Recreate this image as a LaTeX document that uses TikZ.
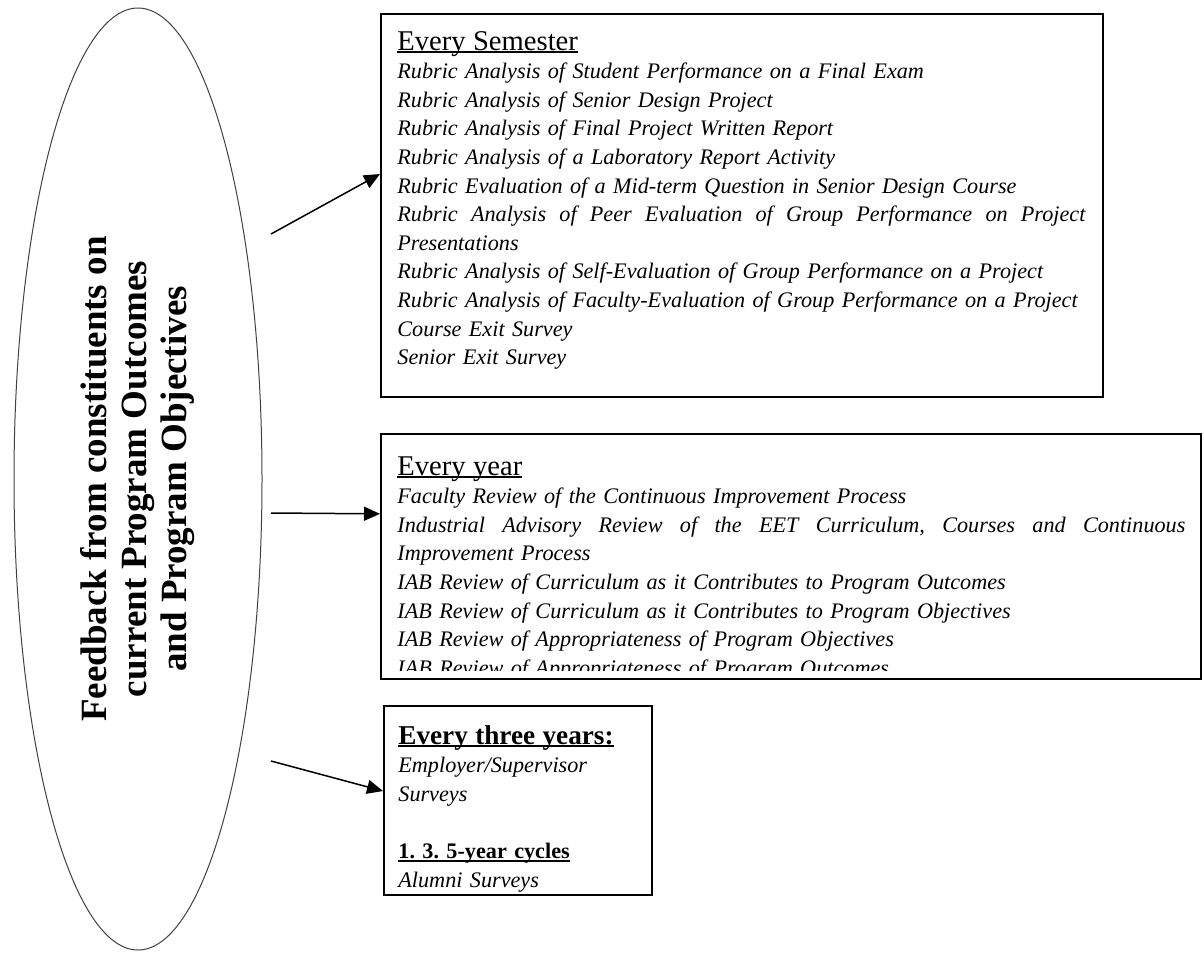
\documentclass[tikz,border=0pt]{standalone}
\usepackage{fontspec}
\setmainfont{Liberation Serif}
\usetikzlibrary{shapes.geometric,arrows.meta,calc}
\frenchspacing

\tikzset{
  listbox/.style={draw, line width=1.1pt, inner sep=0pt, anchor=north west},
  listtext/.style={anchor=base west, inner sep=0pt, align=left,
    font=\fontsize{11.1}{14.3}\selectfont\itshape},
  feedarrow/.style={-{Triangle[length=8pt,width=7pt]}, line width=0.75pt},
}
% underline close to the baseline
\newcommand{\headline}[1]{\leavevmode\setbox0\hbox{#1}\rlap{\rule[-1.6pt]{\wd0}{0.9pt}}\box0}
\newcommand{\plainhead}[1]{{\fontsize{14.3}{14.3}\selectfont\upshape\headline{#1}}}
\newcommand{\boldhead}[1]{{\fontsize{13.6}{14.3}\selectfont\upshape\bfseries\headline{#1}}}

\begin{document}
\begin{tikzpicture}[x=0.5pt,y=-0.5pt]
    \useasboundingbox (0,0) rectangle (1204,954);

    \node [ellipse, draw=black!75, line width=0.5pt, rotate=90, inner sep=0pt,
           minimum width=471pt, minimum height=124pt, align=center,
           font=\fontsize{18.5}{20}\selectfont\bfseries] (feedback) at (138,479)
        {Feedback from constituents on\\ current Program Outcomes\\ and Program Objectives};

    \node [listbox, minimum width=361pt, minimum height=191.5pt] (semBox) at (380,13) {};
    \node [listbox, minimum width=410pt, minimum height=122.5pt] (yearBox) at (380,433) {};
    \node [listbox, minimum width=134pt, minimum height=94.5pt] (threeBox) at (383,705) {};

    \node [listtext, text width=350pt] (semText) at (397,50) {%
        \plainhead{Every Semester}\\
        Rubric Analysis of Student Performance on a Final Exam\\
        Rubric Analysis of Senior Design Project\\
        Rubric Analysis of Final Project Written Report\\
        Rubric Analysis of a Laboratory Report Activity\\
        Rubric Evaluation of a Mid-term Question in Senior Design Course\\
        \makebox[344pt][l]{Rubric\hfill Analysis\hfill of\hfill Peer\hfill Evaluation\hfill
          of\hfill Group\hfill Performance\hfill on\hfill Project}\\
        Presentations\\
        Rubric Analysis of Self-Evaluation of Group Performance on a Project\\
        Rubric Analysis of Faculty-Evaluation of Group Performance on a Project\\
        Course Exit Survey\\
        Senior Exit Survey};

    % last line of this box is cut by its lower edge
    \begin{scope}
    \clip (yearBox.north west) rectangle ($(yearBox.south east)+(0,-10)$);
    \node [listtext, text width=400pt] (yearText) at (397,475) {%
        \plainhead{Every year}\\
        Faculty Review of the Continuous Improvement Process\\
        \makebox[394pt][l]{Industrial\hfill Advisory\hfill Review\hfill of\hfill the\hfill EET\hfill
          Curriculum,\hfill Courses\hfill and\hfill Continuous}\\
        Improvement Process\\
        IAB Review of Curriculum as it Contributes to Program Outcomes\\
        IAB Review of Curriculum as it Contributes to Program Objectives\\
        IAB Review of Appropriateness of Program Objectives\\
        IAB Review of Appropriateness of Program Outcomes};
    \end{scope}

    \node [listtext, text width=125pt] (threeText) at (398,744) {%
        \boldhead{Every three years:}\\
        Employer/Supervisor\\
        Surveys\\[14.3pt]
        {\upshape\bfseries\headline{1. 3. 5-year cycles}}\\
        Alumni Surveys};

    \coordinate (semFrom) at (271,234);
    \coordinate (yearFrom) at (271,513);
    \coordinate (threeFrom) at (271,761);

    \draw [feedarrow] (semFrom) -- ($(semBox.north west)!0.418!(semBox.south west)$);
    \draw [feedarrow] (yearFrom) -- ($(yearBox.north west)!0.327!(yearBox.south west)$);
    \draw [feedarrow] (threeFrom) -- ($(threeBox.north west)!0.45!(threeBox.south west)$);
\end{tikzpicture}
\end{document}
